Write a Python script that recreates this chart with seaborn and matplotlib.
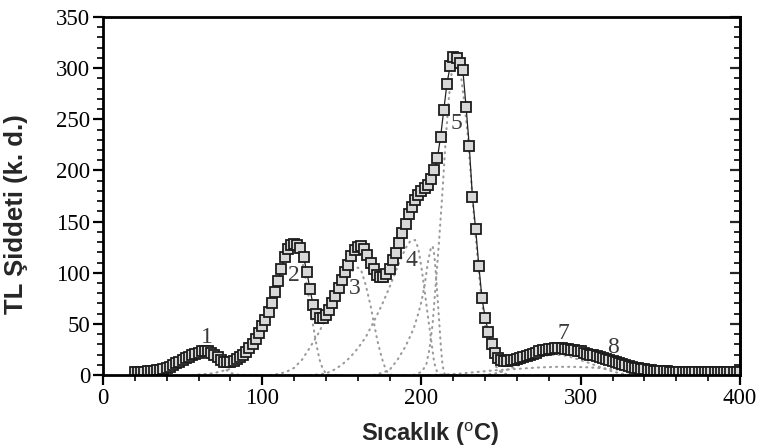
import numpy as np
import matplotlib
matplotlib.use("Agg")
import matplotlib.pyplot as plt
import seaborn as sns
from matplotlib.ticker import MultipleLocator

# Measured glow curve, one reading every 2 degrees C
temperature = np.arange(20, 401, 2)
intensity = [
    3, 3, 3, 3, 3.5, 3.5, 4, 4.5, 5, 6, 7, 8, 10, 11.5, 13,
    15, 16.5, 18, 19.5, 21, 22, 23, 23.5, 23, 22, 20, 17.5, 15, 13, 12.5,
    13, 14, 15.5, 17.5, 20, 22.5, 26, 30, 35, 41, 48, 54, 62, 70, 81,
    92, 104, 115, 123, 127, 128, 127, 124, 115, 101, 84, 68, 60, 56, 55.5,
    59, 64, 70, 77, 85, 93, 101, 108, 116, 122, 125, 126, 123, 117, 110,
    104, 98, 95.5, 96, 99, 104, 112, 119, 129, 139, 148, 157, 164, 171, 176,
    180, 183, 186, 192, 200, 212, 233, 259, 285, 302, 311, 310, 305, 298, 262,
    224, 174, 143, 107, 75, 56, 42, 30, 22, 17, 15, 14, 14, 14.5, 15,
    16, 17, 18, 19, 20, 21, 22, 23, 24, 24.5, 25, 25.5, 26, 26, 26,
    25.5, 25, 24.5, 24, 23.5, 23, 22, 21, 20, 19.5, 18.5, 17.5, 16.5, 15.5, 14.5,
    13.5, 12.5, 11.5, 10.5, 9.5, 8.5, 7.5, 7, 6.5, 6, 5.5, 5, 4.5, 4, 4,
    3.5, 3.5, 3.5, 3, 3, 3, 3, 3, 3, 3, 3, 3, 3, 3, 3,
    3, 3, 3, 3, 3, 3, 3, 3, 3, 3, 3,
]

# Deconvolved glow peaks
peak1_t = [20, 30, 35, 40, 45, 50, 55, 60, 65, 70, 75, 80, 85, 90, 100]
peak1_i = [0, 0.5, 1.5, 3, 6, 10, 15, 19.5, 21, 17, 8, 2, 0.3, 0, 0]

peak2_t = [60, 65, 70, 75, 80, 85, 90, 95, 100, 105, 110, 115, 118, 120, 122,
           124, 126, 128, 130, 132, 134, 136, 138, 140, 142, 150]
peak2_i = [0.5, 1, 2, 4, 6, 11, 19, 30, 45, 65, 88, 112, 122, 125, 123,
           117, 105, 88, 68, 48, 30, 15, 6, 1.5, 0, 0]

peak3_t = [105, 110, 115, 120, 125, 130, 135, 140, 145, 150, 155, 158, 160,
           162, 165, 168, 170, 172, 174, 176, 178, 180, 182, 190]
peak3_i = [0, 1, 3, 7, 15, 27, 40, 55, 70, 85, 99, 104, 105,
           103, 88, 68, 52, 36, 23, 12, 4, 0.5, 0, 0]

peak4_t = [130, 135, 140, 145, 150, 155, 160, 165, 170, 175, 180, 185, 190,
           193, 196, 198, 200, 202, 204, 206, 208, 210, 212, 220]
peak4_i = [0, 0.5, 1.5, 5, 10, 17, 26, 37, 52, 68, 86, 106, 124,
           131, 132, 124, 105, 82, 58, 35, 12, 2, 0, 0]

peak6_t = [170, 175, 180, 185, 190, 195, 198, 200, 202, 204, 206, 207, 208,
           209, 210, 211, 212, 213, 214, 215, 225]
peak6_i = [0, 2, 5, 15, 28, 45, 60, 72, 88, 110, 125, 126, 118,
           100, 78, 55, 32, 13, 3, 0, 0]

peak5_t = [195, 200, 203, 205, 207, 209, 211, 213, 215, 217, 219, 221, 223,
           225, 227, 229, 231, 233, 235, 237, 239, 241, 243, 245, 247, 249,
           251, 253, 256, 265]
peak5_i = [0, 3, 10, 25, 50, 90, 130, 175, 225, 268, 296, 305, 300,
           290, 265, 235, 195, 155, 118, 85, 58, 38, 24, 14, 8, 4,
           2, 1, 0, 0]

peak7_t = [235, 240, 245, 250, 255, 260, 265, 270, 275, 280, 285, 290, 295,
           300, 305, 310, 315, 320, 325, 330, 335, 345]
peak7_i = [0, 0.3, 1, 3, 6, 9, 12, 15, 18, 19.5, 20, 19, 17,
           14.5, 12, 9, 6, 3.5, 1.5, 0.5, 0, 0]

peak8_t = [205, 215, 225, 235, 245, 255, 265, 275, 285, 295, 305, 315, 325,
           335, 345, 355, 400]
peak8_i = [0, 0.5, 1.5, 3, 4.5, 5.5, 6.5, 7.5, 8, 8, 7.5, 6.5, 5,
           3, 1, 0, 0]

# Peak numbers and where they are written
label_text = ["1", "2", "3", "4", "5", "7", "8"]
label_x = [65, 120, 158, 194, 222, 289, 320]
label_y = [37, 97, 85, 112, 246, 41, 27]

sns.set_style("ticks")
plt.rcParams["font.family"] = ["Liberation Serif", "DejaVu Serif"]
plt.rcParams["mathtext.fontset"] = "custom"
plt.rcParams["mathtext.rm"] = "Liberation Sans"

fig = plt.figure(figsize=(7.65, 4.48), dpi=100)
ax = fig.add_axes([0.1346, 0.1629, 0.8327, 0.7991])

dot_style = dict(color="#9a9a9a", linewidth=1.5, linestyle=(0, (0.5, 2.4)),
                 dash_capstyle="round", legend=False, ax=ax)
for tt, ii in [(peak1_t, peak1_i), (peak2_t, peak2_i), (peak3_t, peak3_i),
               (peak4_t, peak4_i), (peak6_t, peak6_i), (peak5_t, peak5_i),
               (peak7_t, peak7_i), (peak8_t, peak8_i)]:
    sns.lineplot(x=tt, y=ii, **dot_style)

sns.lineplot(x=temperature, y=intensity, ax=ax, color="#222222", linewidth=0.9,
             marker="s", markersize=6.6, markerfacecolor="#d8d8d8",
             markeredgecolor="#1c1c1c", markeredgewidth=1.3, legend=False)

for s, x, y in zip(label_text, label_x, label_y):
    ax.text(x, y, s, ha="center", va="center", fontsize=17, color="#3a3a3a",
            family=["Liberation Serif"])

ax.set_xlim(0, 400)
ax.set_ylim(0, 350)
ax.xaxis.set_major_locator(MultipleLocator(100))
ax.xaxis.set_minor_locator(MultipleLocator(20))
ax.yaxis.set_major_locator(MultipleLocator(50))
ax.yaxis.set_minor_locator(MultipleLocator(10))

for side in ["left", "right", "top", "bottom"]:
    ax.spines[side].set_visible(True)
    ax.spines[side].set_linewidth(2.0)
    ax.spines[side].set_color("black")

ax.tick_params(axis="both", which="major", direction="out", length=7, width=1.6,
               labelsize=16.5, colors="black", pad=2)
ax.tick_params(axis="both", which="minor", direction="out", length=4, width=1.4)
ax.tick_params(top=False, right=False, which="both")

right = ax.secondary_yaxis("right")
right.yaxis.set_major_locator(MultipleLocator(50))
right.yaxis.set_minor_locator(MultipleLocator(10))
right.tick_params(which="major", direction="in", length=7, width=1.6, labelright=False)
right.tick_params(which="minor", direction="in", length=4, width=1.4)
right.spines["right"].set_linewidth(2.0)

ax.set_xlabel("Sıcaklık ($^{\\mathrm{o}}$C)", fontsize=17, fontweight="bold",
              family=["Liberation Sans"])
ax.xaxis.set_label_coords(0.513, -0.125)
ax.set_ylabel("TL Şiddeti (k. d.)", fontsize=18.5, fontweight="bold",
              family=["Liberation Sans"])
ax.yaxis.set_label_coords(-0.118, 0.45)

fig.savefig("out.png", dpi=100, facecolor="white")
